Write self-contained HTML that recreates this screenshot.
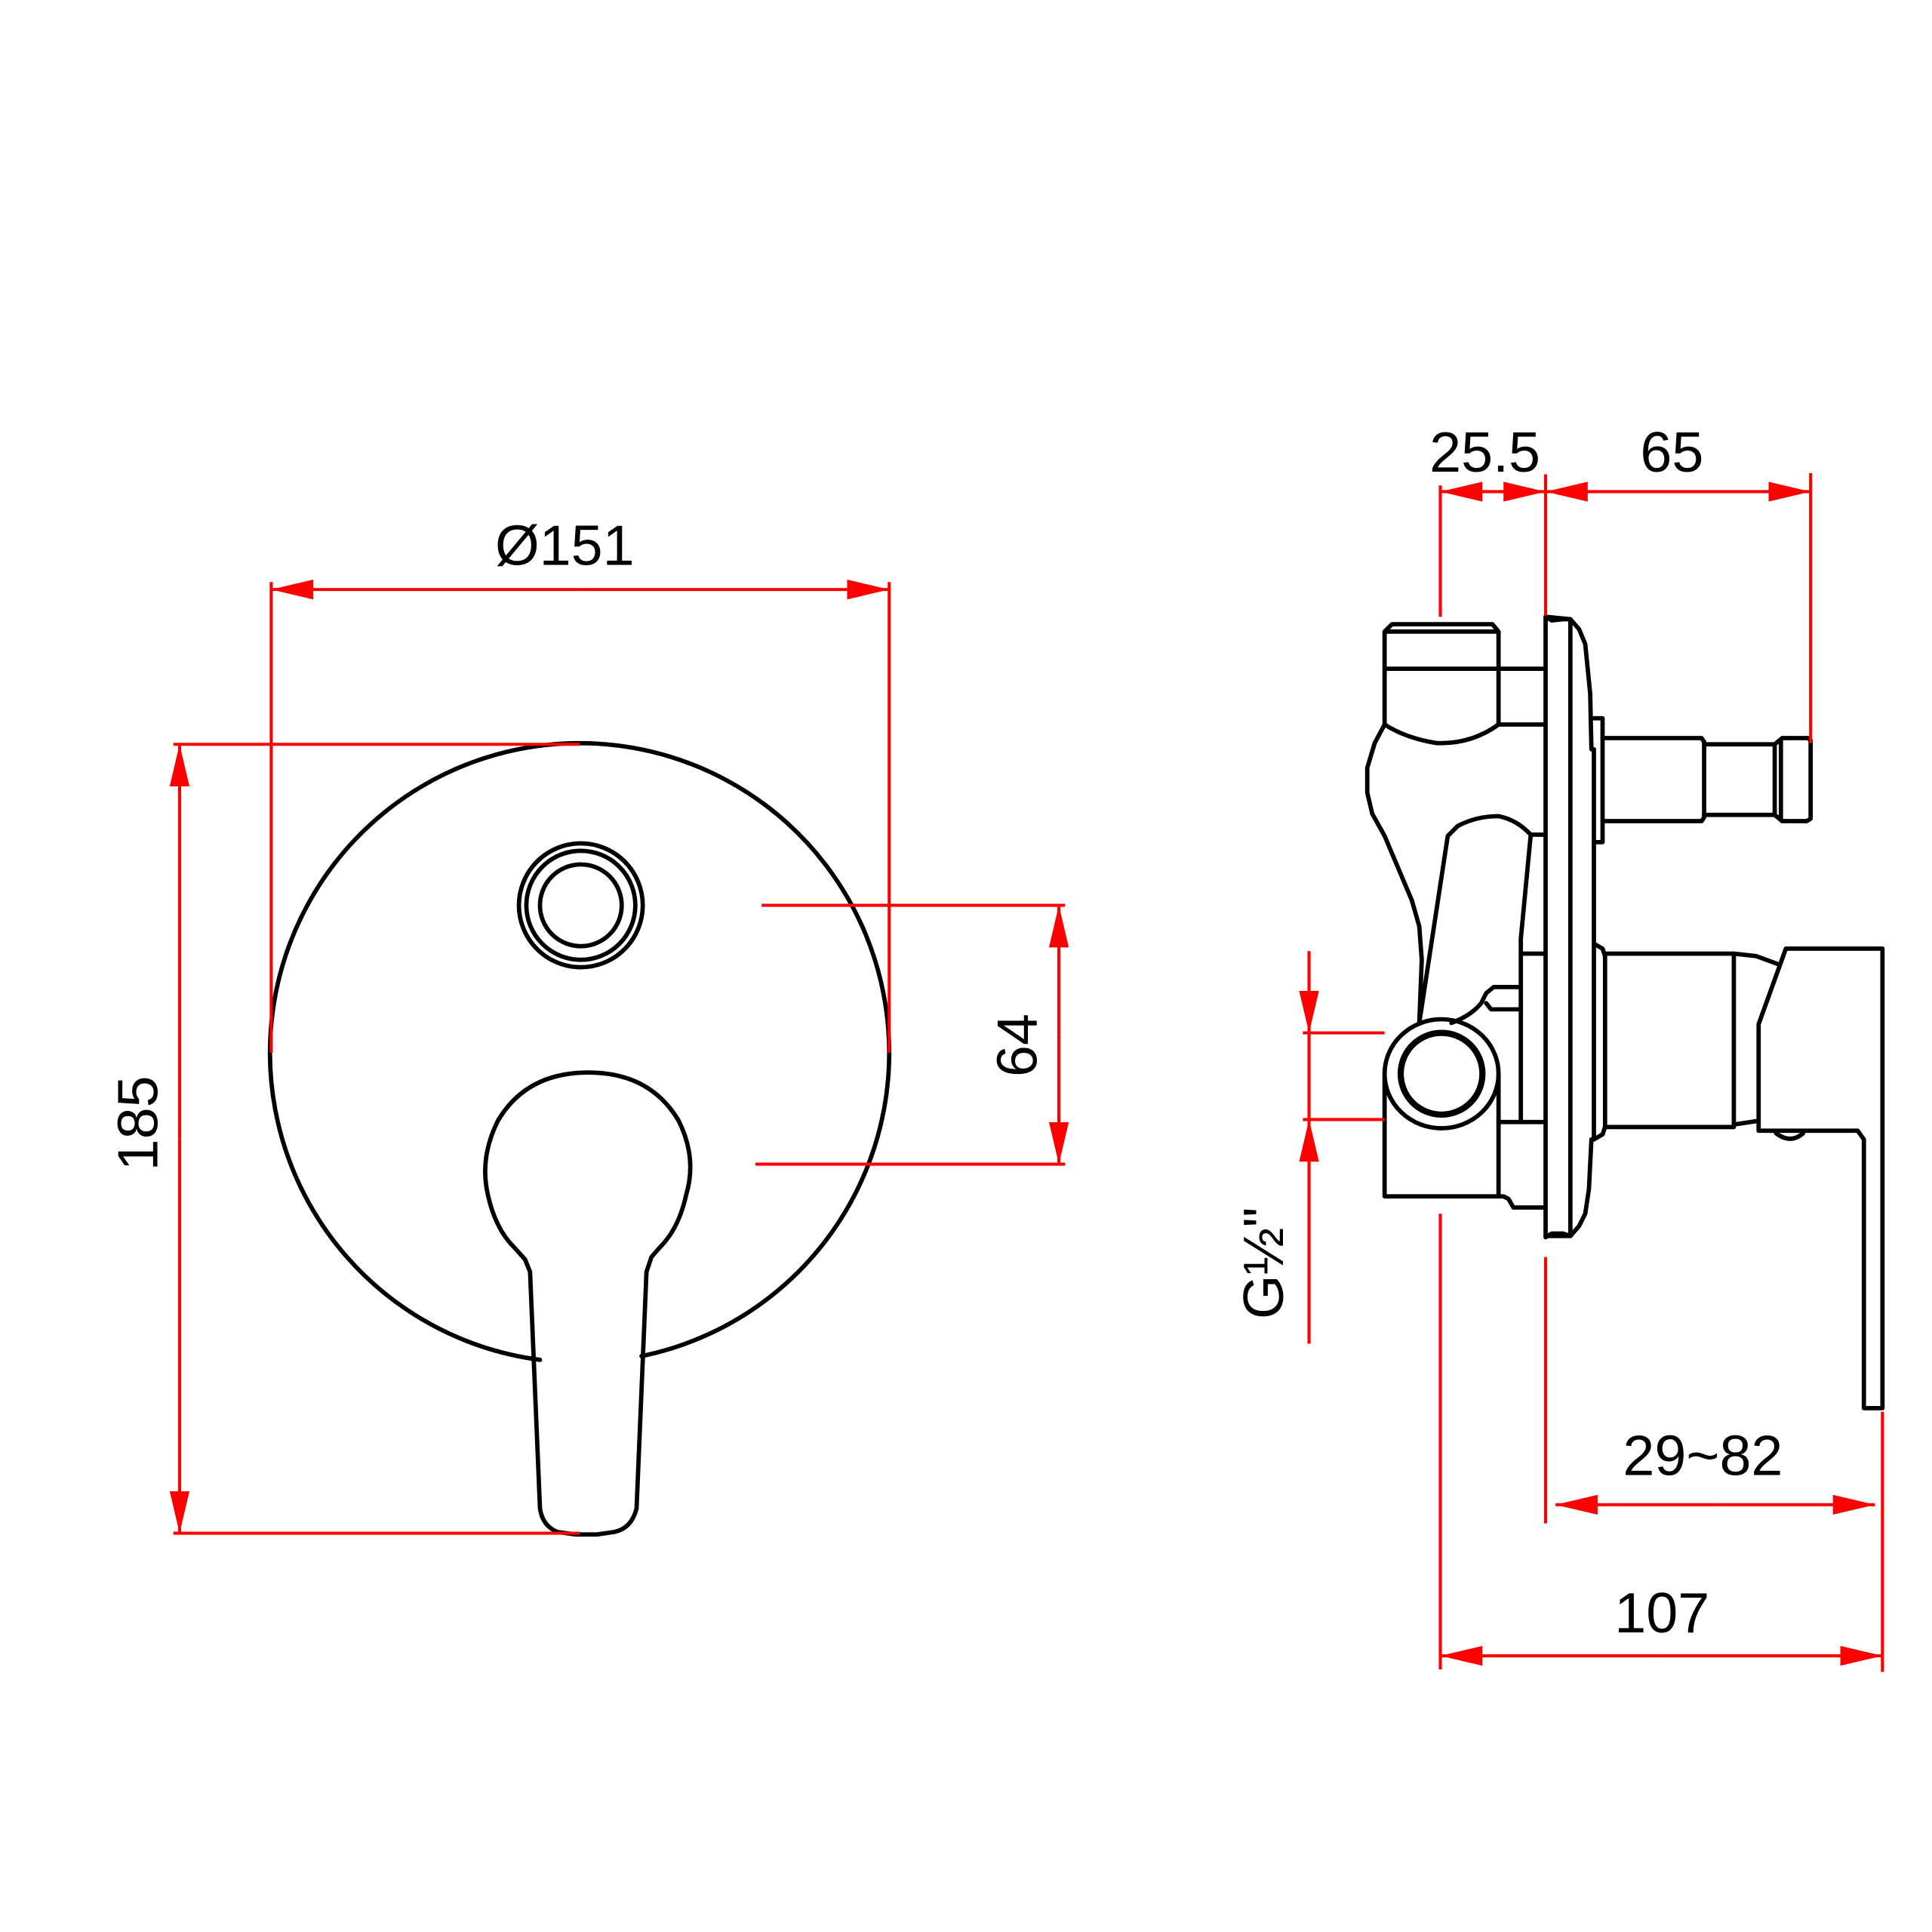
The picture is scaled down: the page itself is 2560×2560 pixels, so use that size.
<!DOCTYPE html>
<html><head><style>html,body{margin:0;padding:0;background:#fff}svg{display:block}</style></head>
<body>
<svg width="2560" height="2560" viewBox="0 0 1560 1560" xmlns="http://www.w3.org/2000/svg">
<defs>
<marker id="a" viewBox="0 0 34 16" refX="34" refY="8" markerWidth="34" markerHeight="16" markerUnits="userSpaceOnUse" orient="auto"><path d="M0,0 L34,8 L0,16 Z" fill="#f00"/></marker>
</defs>
<g fill="none" stroke="#000" stroke-width="3.5" stroke-linejoin="round" stroke-linecap="round">
<!-- left view -->
<path d="M436,1098 A250,250 0 1 1 518,1095"/>
<circle cx="469" cy="731" r="50"/>
<circle cx="469" cy="731" r="44"/>
<circle cx="469" cy="731" r="33"/>
<path d="M428,1027 L424,1017 L415,1007 Q400,992 394,965 Q387,935 402,905 Q425,866 475,866 Q525,866 548,905 Q563,935 554,965 Q548,992 533,1007 L526,1015 L522,1027 L514,1218 Q510,1234 496,1237 L482,1239 L465,1239 L450,1237 Q438,1232 436,1218 Z"/>
<!-- right view -->
<path d="M1248,498 L1248,998 L1268,998 L1268,500 Z"/>
<path d="M1248,498 L1253,501 L1262,500 L1268,500 L1275,508 L1280,520 L1284,560 L1285,605 L1287,605 L1287,920 L1285,920 L1283,960 L1280,980 L1275,990 L1268,998 L1262,996 L1253,996 L1248,999"/>
<path d="M1287,580 L1294,580 L1294,680 L1287,680"/>
<path d="M1294,596 L1374,596 L1376,599 L1376,660 L1374,663 L1294,663"/>
<path d="M1376,601 L1433,601 M1376,658 L1433,658"/>
<path d="M1433,601 L1439,596 L1460,596 L1462,598 L1462,661 L1459,663 L1439,663 L1433,658 Z M1438,598 L1438,662"/>
<path d="M1287,762 L1294,766 L1296,772 L1296,910 L1294,916 L1287,920"/>
<path d="M1296,770 L1400,770 L1400,910 L1296,910"/>
<path d="M1400,770 L1418,772 L1437,779 M1400,908 L1420,905"/>
<path d="M1442,766 L1520,766 L1520,1137 L1505,1137 L1505,920 L1500,913 L1420,913 L1420,827 Z"/>
<path d="M1434,915 Q1446,924 1456,915"/>
<path d="M1118,585 L1118,510 L1124,504 L1205,504 L1210,510 L1210,585 M1118,510 L1210,510 M1118,540 L1246,540 M1210,585 L1246,585"/>
<path d="M1118,585 Q1135,596 1160,600 Q1188,601 1210,585"/>
<path d="M1118,585 L1110,600 L1104,620 L1104,640 L1108,657 L1118,675 L1140,727 L1146,748 L1148,775 L1146,826"/>
<path d="M1146,826 L1169,675 L1177,667 Q1192,659 1210,659 Q1225,662 1236,674 L1246,674 M1236,674 L1228,758 L1228,906"/>
<path d="M1228,770 L1248,770 M1210,906 L1248,906"/>
<path d="M1228,797 L1206,797 L1200,802 L1196,810 Q1188,820 1172,826 M1200,810 L1204,815 L1228,815"/>
<ellipse cx="1164" cy="867" rx="46" ry="44"/>
<circle cx="1164" cy="867" r="33" stroke-width="5"/>
<path d="M1118,867 L1118,966 L1214,966 L1218,968 L1222,975 L1248,975 M1210,867 L1210,966"/>
</g>
<g stroke="#f00" stroke-width="2.5" fill="none">
<path d="M219,470 L219,850 M718,470 L718,850"/>
<path d="M469,476 L219,476" marker-end="url(#a)"/><path d="M469,476 L718,476" marker-end="url(#a)"/>
<path d="M140,601 L468,601 M140,1238 L468,1238"/>
<path d="M145,920 L145,601" marker-end="url(#a)"/><path d="M145,920 L145,1238" marker-end="url(#a)"/>
<path d="M615,731 L860,731 M610,940 L860,940"/>
<path d="M855,835 L855,731" marker-end="url(#a)"/><path d="M855,835 L855,940" marker-end="url(#a)"/>
<path d="M1163,392 L1163,498 M1248,383 L1248,497 M1248,1015 L1248,1230 M1462,382 L1462,600"/>
<path d="M1205,397 L1163,397" marker-end="url(#a)"/><path d="M1205,397 L1248,397" marker-end="url(#a)"/>
<path d="M1355,397 L1248,397" marker-end="url(#a)"/><path d="M1355,397 L1462,397" marker-end="url(#a)"/>
<path d="M1520,1140 L1520,1350"/>
<path d="M1385,1215 L1256,1215" marker-end="url(#a)"/><path d="M1385,1215 L1514,1215" marker-end="url(#a)"/>
<path d="M1163,980 L1163,1348"/>
<path d="M1340,1337 L1163,1337" marker-end="url(#a)"/><path d="M1340,1337 L1520,1337" marker-end="url(#a)"/>
<path d="M1052,834 L1118,834 M1052,904 L1118,904 M1057,834 L1057,904"/>
<path d="M1057,768 L1057,834" marker-end="url(#a)"/><path d="M1057,1085 L1057,904" marker-end="url(#a)"/>
</g>
<g font-family="'Liberation Sans', 'DejaVu Sans', sans-serif" font-size="46" fill="#000" text-anchor="middle">
<text x="456" y="456">Ø151</text>
<text transform="translate(127,907) rotate(-90)">185</text>
<text transform="translate(837,844) rotate(-90)">64</text>
<text x="1199" y="381">25.5</text>
<text x="1350" y="381">65</text>
<text x="1375" y="1191">29~82</text>
<text x="1342" y="1318">107</text>
<text transform="translate(1036,1020) rotate(-90)">G½"</text>
</g>
</svg>
</body></html>
